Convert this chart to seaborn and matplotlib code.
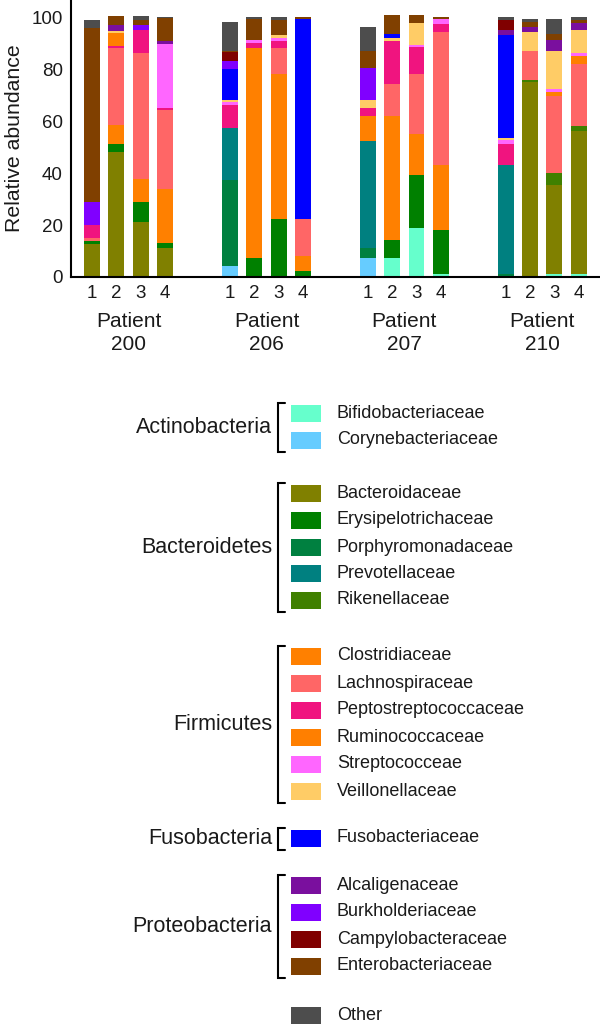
import numpy as np
import pandas as pd
import matplotlib
matplotlib.use("Agg")
import matplotlib.pyplot as plt
import seaborn as sns
from matplotlib.patches import Rectangle

# ---------------- data ----------------
patients = ["200", "206", "207", "210"]
samples = ["1", "2", "3", "4"]

families = ["Bifidobacteriaceae", "Corynebacteriaceae", "Bacteroidaceae",
            "Erysipelotrichaceae", "Porphyromonadaceae", "Prevotellaceae",
            "Rikenellaceae", "Clostridiaceae", "Lachnospiraceae",
            "Peptostreptococcaceae", "Ruminococcaceae", "Streptococceae",
            "Veillonellaceae", "Fusobacteriaceae", "Alcaligenaceae",
            "Burkholderiaceae", "Campylobacteraceae", "Enterobacteriaceae",
            "Other"]
colors = ["#66FFCC", "#66CCFF", "#808000", "#008000", "#008040", "#008080",
          "#408000", "#FF8000", "#FF6666", "#F0147F", "#FF7F00", "#FF66FF",
          "#FFCC66", "#0000FF", "#7A0F9E", "#8000FF", "#800000", "#804000",
          "#4D4D4D"]
phyla = ["Actinobacteria", "Bacteroidetes", "Firmicutes", "Fusobacteria",
         "Proteobacteria"]
phylum_members = [2, 5, 6, 1, 4]

# values per family: patient 200 (1-4), 206 (1-4), 207 (1-4), 210 (1-4)
bifido      = [0, 0, 0, 0,   0, 0, 0, 0,   0, 7.2, 19.1, 1.2,   0, 0, 1.2, 1.2]
coryne      = [0, 0, 0, 0,   4.2, 0, 0, 0,   7.2, 0, 0, 0,   0, 0, 0, 0]
bacteroid   = [12.9, 48.2, 21.3, 11.0,   0, 0, 0, 0,   0, 0, 0, 0,   0, 75.1, 34.2, 55.1]
erysipelo   = [1.1, 3.0, 7.7, 2.0,   0, 7.2, 22.3, 2.3,   0, 7.0, 20.1, 16.9,   0, 0, 0, 0]
porphyro    = [0, 0, 0, 0,   33.1, 0, 0, 0,   3.8, 0, 0, 0,   1.2, 0, 0, 0]
prevotella  = [0, 0, 0, 0,   20.1, 0, 0, 0,   41.3, 0, 0, 0,   42.1, 0, 0, 0]
rikenella   = [0, 0, 0, 0,   0, 0, 0, 0,   0, 0, 0, 0,   0, 0.9, 4.9, 1.9]
clostridia  = [0, 7.6, 9.0, 21.1,   0, 81.0, 56.0, 5.8,   9.8, 48.1, 16.1, 25.2,   0, 0, 0, 0]
lachno      = [0.9, 29.4, 48.3, 30.4,   0, 0, 9.9, 14.2,   0, 12.2, 23.0, 51.1,   0, 11.3, 29.7, 24.0]
pepto       = [5.1, 0.9, 9.0, 0.8,   8.8, 2.1, 3.0, 0,   3.2, 16.7, 10.3, 3.2,   7.9, 0, 0, 0]
rumino      = [0, 5.0, 0, 0,   0, 0, 0, 0,   0, 0, 0, 0,   0, 0, 1.3, 3.2]
strepto     = [0, 0, 0, 24.8,   1.2, 1.1, 1.2, 0,   0, 0, 0.9, 1.9,   1.5, 0, 1.3, 1.0]
veillo      = [0, 0.9, 0, 0,   0.9, 0, 0.9, 0,   3.0, 1.2, 8.7, 0,   0.9, 7.1, 14.7, 8.9]
fuso        = [0, 0, 0, 0,   12.0, 0, 0, 77.2,   0, 1.3, 0, 0,   39.7, 0, 0, 0]
alcalig     = [0, 2.3, 0, 1.1,   0, 0, 0, 0,   0, 0, 0, 0,   2.1, 1.9, 4.1, 2.9]
burkhold    = [9.0, 0, 2.0, 0,   3.2, 0, 0, 0,   12.2, 0, 0, 0,   0, 0, 0, 0]
campylo     = [0, 0, 0, 0,   3.2, 0, 0, 0,   0, 0, 0, 0,   3.8, 0, 0, 0]
entero      = [67.0, 3.5, 1.9, 8.7,   0.6, 8.1, 5.9, 1.0,   6.8, 7.3, 2.8, 1.0,   0, 2.2, 2.3, 0.9]
other       = [3.1, 0, 1.6, 0.5,   11.2, 1.0, 1.3, 0,   9.0, 0, 0, 0,   1.2, 1.0, 5.8, 1.4]

series = [bifido, coryne, bacteroid, erysipelo, porphyro, prevotella, rikenella,
          clostridia, lachno, pepto, rumino, strepto, veillo, fuso, alcalig,
          burkhold, campylo, entero, other]

# ---------------- style ----------------
sns.set_theme(style="white")
plt.rcParams['font.family'] = ['Liberation Sans', 'DejaVu Sans']

W, H = 600, 1028
fig = plt.figure(figsize=(W / 100, H / 100), dpi=100)
ax = fig.add_axes([71 / W, 1 - 277 / H, 1 - 71 / W, 277 / H])

GROUP = 5.65
pos = [g * GROUP + b for g in range(len(patients)) for b in range(len(samples))]
vals = np.array(series, dtype=float)
cum = np.cumsum(vals, axis=0)

# draw stacked bars from top-most family down (overlay technique)
for k in reversed(range(len(families))):
    df = pd.DataFrame({"pos": pos, "top": cum[k]})
    sns.barplot(data=df, x="pos", y="top", color=colors[k], native_scale=True,
                width=0.65, linewidth=0, errorbar=None, saturation=1,
                orient="x", ax=ax)

ax.set_xlim(-0.86, 20.82)
ax.set_ylim(0, 106.9)
ax.set_yticks([0, 20, 40, 60, 80, 100])
ax.set_xticks(pos, labels=samples * len(patients))
ax.tick_params(axis="both", length=0, labelsize=13.5, colors="#1a1a1a")
ax.tick_params(axis="y", pad=6)
ax.tick_params(axis="x", pad=6)
ax.set_xlabel("")
ax.set_ylabel("Relative abundance", fontsize=15.3, color="#1a1a1a", labelpad=5)
for s in ["top", "right"]:
    ax.spines[s].set_visible(False)
for s in ["left", "bottom"]:
    ax.spines[s].set_color("black")
    ax.spines[s].set_linewidth(1.5)

for g, p in enumerate(patients):
    ax.annotate(f"Patient\n{p}", xy=(g * GROUP + 1.5, 0),
                xycoords=("data", "axes fraction"), xytext=(0, -25),
                textcoords="offset points", ha="center", va="top",
                fontsize=15, linespacing=1.3, color="#1a1a1a")

# ---------------- legend ----------------
lax = fig.add_axes([0, 0, 1, 1], facecolor="none")
lax.set_xlim(0, W)
lax.set_ylim(H, 0)
lax.axis("off")

row_y = [413, 440, 493, 520, 547, 573, 600, 656, 683, 710, 737, 764, 791,
         838, 885, 912, 939, 966, 1015]
for k, fam in enumerate(families):
    y = row_y[k]
    lax.add_patch(Rectangle((291, y - 8.5), 30, 17, facecolor=colors[k],
                            edgecolor="none"))
    lax.text(337, y, fam, ha="left", va="center", fontsize=13,
             color="#1a1a1a")

start = 0
for name, n in zip(phyla, phylum_members):
    top = row_y[start] - 10
    bot = row_y[start + n - 1] + 12
    lax.plot([285, 278, 278, 285], [top, top, bot, bot], color="black",
             lw=1.5, solid_joinstyle="miter")
    lax.text(272, (top + bot) / 2, name, ha="right", va="center",
             fontsize=15.5, color="#1a1a1a")
    start += n

fig.savefig("out.png", dpi=100)
